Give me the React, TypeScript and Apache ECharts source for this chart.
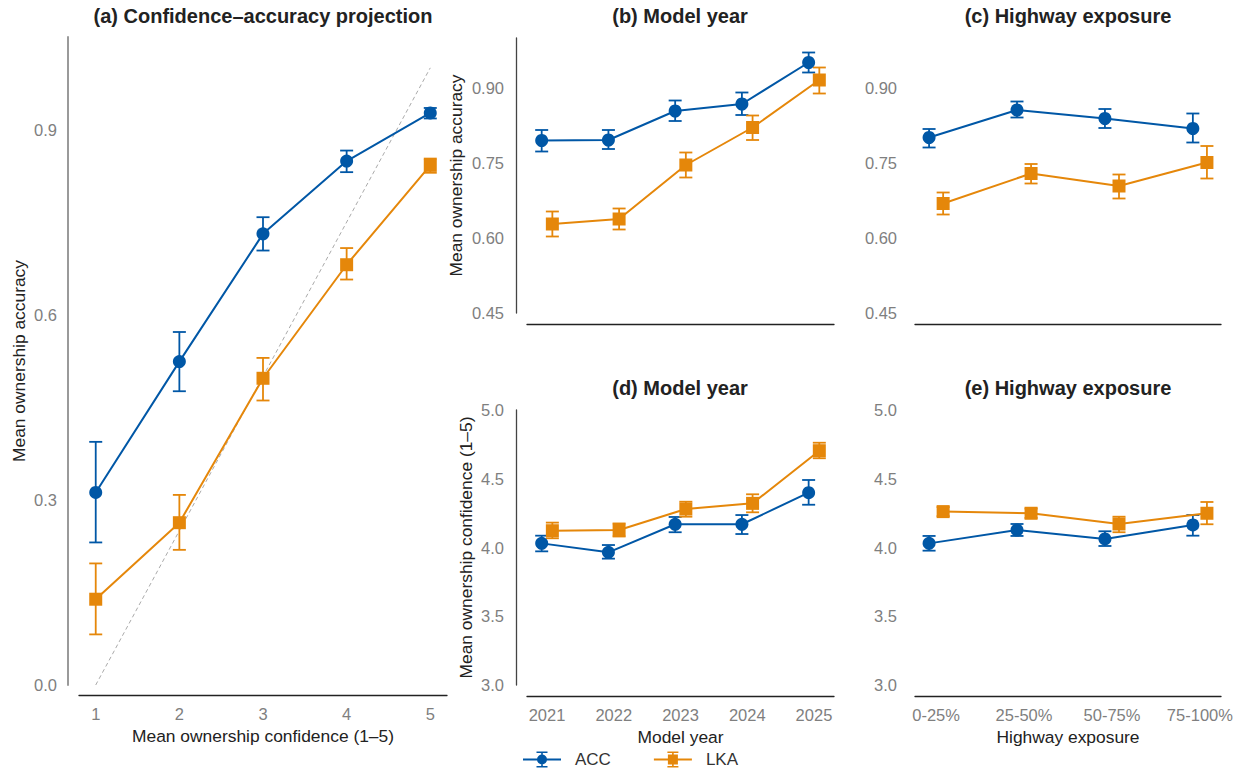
import React, { useEffect, useRef } from "react";
import * as echarts from "echarts";

// ---------- Data ----------
// Panel (a): confidence–accuracy projection
const confLevels = [1, 2, 3, 4, 5];
const aAccMean = [0.312, 0.524, 0.731, 0.849, 0.927];
const aAccLow = [0.231, 0.476, 0.704, 0.831, 0.918];
const aAccHigh = [0.394, 0.572, 0.758, 0.866, 0.935];
const aLkaMean = [0.139, 0.263, 0.497, 0.681, 0.842];
const aLkaLow = [0.082, 0.219, 0.461, 0.657, 0.83];
const aLkaHigh = [0.197, 0.308, 0.53, 0.708, 0.853];
const calibrationLine = [
  [1, 0],
  [5, 1],
];

// Panels (b) & (d): model year
const modelYears = ["2021", "2022", "2023", "2024", "2025"];
const bAccMean = [0.795, 0.796, 0.854, 0.868, 0.951];
const bAccLow = [0.773, 0.778, 0.834, 0.846, 0.931];
const bAccHigh = [0.816, 0.816, 0.875, 0.891, 0.971];
const bLkaMean = [0.628, 0.638, 0.746, 0.821, 0.916];
const bLkaLow = [0.603, 0.617, 0.721, 0.796, 0.889];
const bLkaHigh = [0.653, 0.659, 0.771, 0.845, 0.941];

const dAccMean = [4.03, 3.965, 4.169, 4.169, 4.399];
const dAccLow = [3.972, 3.919, 4.111, 4.098, 4.311];
const dAccHigh = [4.086, 4.018, 4.222, 4.236, 4.491];
const dLkaMean = [4.122, 4.127, 4.28, 4.321, 4.704];
const dLkaLow = [4.067, 4.08, 4.224, 4.256, 4.649];
const dLkaHigh = [4.181, 4.175, 4.333, 4.387, 4.762];

// Panels (c) & (e): highway exposure
const highwayBins = ["0-25%", "25-50%", "50-75%", "75-100%"];
const cAccMean = [0.801, 0.856, 0.839, 0.819];
const cAccLow = [0.781, 0.841, 0.82, 0.791];
const cAccHigh = [0.818, 0.873, 0.858, 0.849];
const cLkaMean = [0.669, 0.729, 0.704, 0.751];
const cLkaLow = [0.647, 0.709, 0.679, 0.719];
const cLkaHigh = [0.691, 0.748, 0.727, 0.784];

const eAccMean = [4.03, 4.127, 4.062, 4.164];
const eAccLow = [3.977, 4.084, 4.011, 4.086];
const eAccHigh = [4.084, 4.171, 4.118, 4.236];
const eLkaMean = [4.261, 4.249, 4.171, 4.249];
const eLkaLow = [4.228, 4.215, 4.111, 4.169];
const eLkaHigh = [4.294, 4.283, 4.224, 4.331];

// Tick labels
const aYTicks = [0, 0.3, 0.6, 0.9];
const accYTicks = [0.45, 0.6, 0.75, 0.9];
const confYTicks = [3.0, 3.5, 4.0, 4.5, 5.0];

const seriesNames = ["ACC", "LKA"];

// ---------- Styling ----------
const BLUE = "#0057A6";
const ORANGE = "#E5870A";
const FONT = "'Liberation Sans', Arial, Helvetica, sans-serif";
const TICK_COLOR = "#7f7f7f";
const NAME_COLOR = "#222";
const DODGE = 0.08;

const accIcon =
  "path://M0 7L38 7L38 9L0 9Z M18.2 1L19.8 1L19.8 15L18.2 15Z M13.5 0L24.5 0L24.5 1.6L13.5 1.6Z M13.5 14.4L24.5 14.4L24.5 16L13.5 16Z M14 8A5 5 0 1 1 24 8A5 5 0 1 1 14 8Z";
const lkaIcon =
  "path://M0 7L38 7L38 9L0 9Z M18.2 1L19.8 1L19.8 15L18.2 15Z M13.5 0L24.5 0L24.5 1.6L13.5 1.6Z M13.5 14.4L24.5 14.4L24.5 16L13.5 16Z M14 3L24 3L24 13L14 13Z";

function errRender(color: string) {
  return (params: any, api: any) => {
    const x = api.value(0);
    const lo = api.value(1);
    const hi = api.value(2);
    const pLo = api.coord([x, lo]);
    const pHi = api.coord([x, hi]);
    const hw = 6.5;
    const style = { stroke: color, lineWidth: 1.8, fill: "none" };
    return {
      type: "group",
      children: [
        { type: "line", shape: { x1: pLo[0], y1: pLo[1], x2: pHi[0], y2: pHi[1] }, style },
        { type: "line", shape: { x1: pHi[0] - hw, y1: pHi[1], x2: pHi[0] + hw, y2: pHi[1] }, style },
        { type: "line", shape: { x1: pLo[0] - hw, y1: pLo[1], x2: pLo[0] + hw, y2: pLo[1] }, style },
      ],
    };
  };
}

function panelSeries(
  gi: number,
  xs: number[],
  dodge: number,
  accM: number[],
  accL: number[],
  accH: number[],
  lkaM: number[],
  lkaL: number[],
  lkaH: number[]
) {
  const out: any[] = [];
  const groups = [
    { name: seriesNames[0], color: BLUE, m: accM, l: accL, h: accH, dx: -dodge, symbol: "circle" },
    { name: seriesNames[1], color: ORANGE, m: lkaM, l: lkaL, h: lkaH, dx: dodge, symbol: "rect" },
  ];
  groups.forEach((g) => {
    out.push({
      type: "custom",
      name: g.name + " CI",
      xAxisIndex: gi,
      yAxisIndex: gi,
      renderItem: errRender(g.color),
      encode: { x: 0, y: [1, 2] },
      data: xs.map((x, i) => [x + g.dx, g.l[i], g.h[i]]),
      z: 3,
      silent: true,
    });
    out.push({
      type: "line",
      name: g.name,
      xAxisIndex: gi,
      yAxisIndex: gi,
      data: xs.map((x, i) => [x + g.dx, g.m[i]]),
      symbol: g.symbol,
      symbolSize: 13,
      showSymbol: true,
      color: g.color,
      lineStyle: { color: g.color, width: 2 },
      itemStyle: { color: g.color, borderWidth: 0 },
      z: 4,
      silent: true,
    });
  });
  return out;
}

const tickLabel = (extra: any) => ({
  color: TICK_COLOR,
  fontSize: 16.5,
  fontFamily: FONT,
  ...extra,
});

const nameStyle = { color: NAME_COLOR, fontSize: 17.4, fontFamily: FONT };

function buildOption() {
  const grids = [
    { left: 79, top: 37, width: 368, height: 648 },
    { left: 527, top: 38, width: 307, height: 275 },
    { left: 915, top: 38, width: 306, height: 275 },
    { left: 527, top: 410, width: 307, height: 275 },
    { left: 915, top: 410, width: 306, height: 275 },
  ];

  const yearIdx = modelYears.map((_, i) => i);
  const binIdx = highwayBins.map((_, i) => i);

  const xBase = (gi: number, min: number, max: number) => ({
    type: "value",
    gridIndex: gi,
    min,
    max,
    offset: gi === 0 ? 10 : 11,
    axisLine: { show: true, onZero: false, lineStyle: { color: "#222", width: 1.3 } },
    axisTick: { show: false },
    splitLine: { show: false },
  });

  const xAxis: any[] = [
    {
      ...xBase(0, 0.8, 5.2),
      axisLabel: tickLabel({ customValues: confLevels, margin: 10, formatter: (v: number) => String(v) }),
      name: "Mean ownership confidence (1–5)",
      nameLocation: "middle",
      nameGap: 32,
      nameTextStyle: nameStyle,
    },
    { ...xBase(1, -0.3, 4.3), axisLabel: { show: false } },
    { ...xBase(2, -0.24, 3.24), axisLabel: { show: false } },
    {
      ...xBase(3, -0.3, 4.3),
      axisLabel: tickLabel({
        customValues: yearIdx,
        margin: 10,
        formatter: (v: number) => modelYears[Math.round(v)] ?? "",
      }),
      name: "Model year",
      nameLocation: "middle",
      nameGap: 32,
      nameTextStyle: nameStyle,
    },
    {
      ...xBase(4, -0.24, 3.24),
      axisLabel: tickLabel({
        customValues: binIdx,
        margin: 10,
        formatter: (v: number) => highwayBins[Math.round(v)] ?? "",
      }),
      name: "Highway exposure",
      nameLocation: "middle",
      nameGap: 32,
      nameTextStyle: nameStyle,
    },
  ];

  const yBase = (gi: number, min: number, max: number, showLine: boolean, lineColor: string, lineWidth: number) => ({
    type: "value",
    gridIndex: gi,
    min,
    max,
    offset: showLine ? 11 : 0,
    axisLine: { show: showLine, onZero: false, lineStyle: { color: lineColor, width: lineWidth } },
    axisTick: { show: false },
    splitLine: { show: false },
  });

  const yAxis: any[] = [
    {
      ...yBase(0, 0, 1.05, true, "#9a9a9a", 2),
      axisLabel: tickLabel({ customValues: aYTicks, margin: 11, formatter: (v: number) => v.toFixed(1) }),
      name: "Mean ownership accuracy",
      nameLocation: "middle",
      nameGap: 41,
      nameRotate: 90,
      nameTextStyle: nameStyle,
    },
    {
      ...yBase(1, 0.45, 1.0, true, "#444", 1.3),
      axisLabel: tickLabel({ customValues: accYTicks, margin: 12, formatter: (v: number) => v.toFixed(2) }),
      name: "Mean ownership accuracy",
      nameLocation: "middle",
      nameGap: 52,
      nameRotate: 90,
      nameTextStyle: nameStyle,
    },
    {
      ...yBase(2, 0.45, 1.0, false, "#444", 1.3),
      axisLabel: tickLabel({ customValues: accYTicks, margin: 18, formatter: (v: number) => v.toFixed(2) }),
    },
    {
      ...yBase(3, 3, 5, true, "#444", 1.3),
      axisLabel: tickLabel({ customValues: confYTicks, margin: 12, formatter: (v: number) => v.toFixed(1) }),
      name: "Mean ownership confidence (1–5)",
      nameLocation: "middle",
      nameGap: 42,
      nameRotate: 90,
      nameTextStyle: nameStyle,
    },
    {
      ...yBase(4, 3, 5, false, "#444", 1.3),
      axisLabel: tickLabel({ customValues: confYTicks, margin: 18, formatter: (v: number) => v.toFixed(1) }),
    },
  ];

  const titleStyle = { color: NAME_COLOR, fontSize: 20, fontWeight: "bold", fontFamily: FONT };
  const title = [
    { text: "(a) Confidence–accuracy projection", left: 263, top: 6 },
    { text: "(b) Model year", left: 680, top: 6 },
    { text: "(c) Highway exposure", left: 1068, top: 6 },
    { text: "(d) Model year", left: 680, top: 378 },
    { text: "(e) Highway exposure", left: 1068, top: 378 },
  ].map((t) => ({ ...t, textAlign: "center", padding: 0, textStyle: titleStyle }));

  const series: any[] = [
    {
      type: "line",
      name: "calibration",
      xAxisIndex: 0,
      yAxisIndex: 0,
      data: calibrationLine,
      symbol: "none",
      lineStyle: { color: "#aaaaaa", width: 1, type: [4, 3] },
      z: 2,
      silent: true,
    },
    ...panelSeries(0, confLevels, 0, aAccMean, aAccLow, aAccHigh, aLkaMean, aLkaLow, aLkaHigh),
    ...panelSeries(1, modelYears.map((_, i) => i), DODGE, bAccMean, bAccLow, bAccHigh, bLkaMean, bLkaLow, bLkaHigh),
    ...panelSeries(2, highwayBins.map((_, i) => i), DODGE, cAccMean, cAccLow, cAccHigh, cLkaMean, cLkaLow, cLkaHigh),
    ...panelSeries(3, modelYears.map((_, i) => i), DODGE, dAccMean, dAccLow, dAccHigh, dLkaMean, dLkaLow, dLkaHigh),
    ...panelSeries(4, highwayBins.map((_, i) => i), DODGE, eAccMean, eAccLow, eAccHigh, eLkaMean, eLkaLow, eLkaHigh),
  ];

  return {
    animation: false,
    backgroundColor: "#ffffff",
    textStyle: { fontFamily: FONT },
    title,
    grid: grids,
    xAxis,
    yAxis,
    legend: {
      left: 523,
      top: 751,
      padding: 0,
      itemWidth: 38,
      itemHeight: 16,
      itemGap: 43,
      selectedMode: false,
      itemStyle: { borderWidth: 0 },
      textStyle: { fontSize: 17, color: "#333", fontFamily: FONT, padding: [0, 0, 0, 9] },
      data: [
        { name: seriesNames[0], icon: accIcon },
        { name: seriesNames[1], icon: lkaIcon },
      ],
    },
    series,
  };
}

export default function App() {
  const ref = useRef<HTMLDivElement>(null);
  useEffect(() => {
    if (!ref.current) return;
    const chart = echarts.init(ref.current, undefined, { renderer: "svg" });
    chart.setOption(buildOption() as any);
    return () => {
      chart.dispose();
    };
  }, []);
  return (
    <div
      ref={ref}
      style={{ position: "absolute", left: 0, top: 0, width: 1246, height: 774, background: "#fff" }}
    />
  );
}
